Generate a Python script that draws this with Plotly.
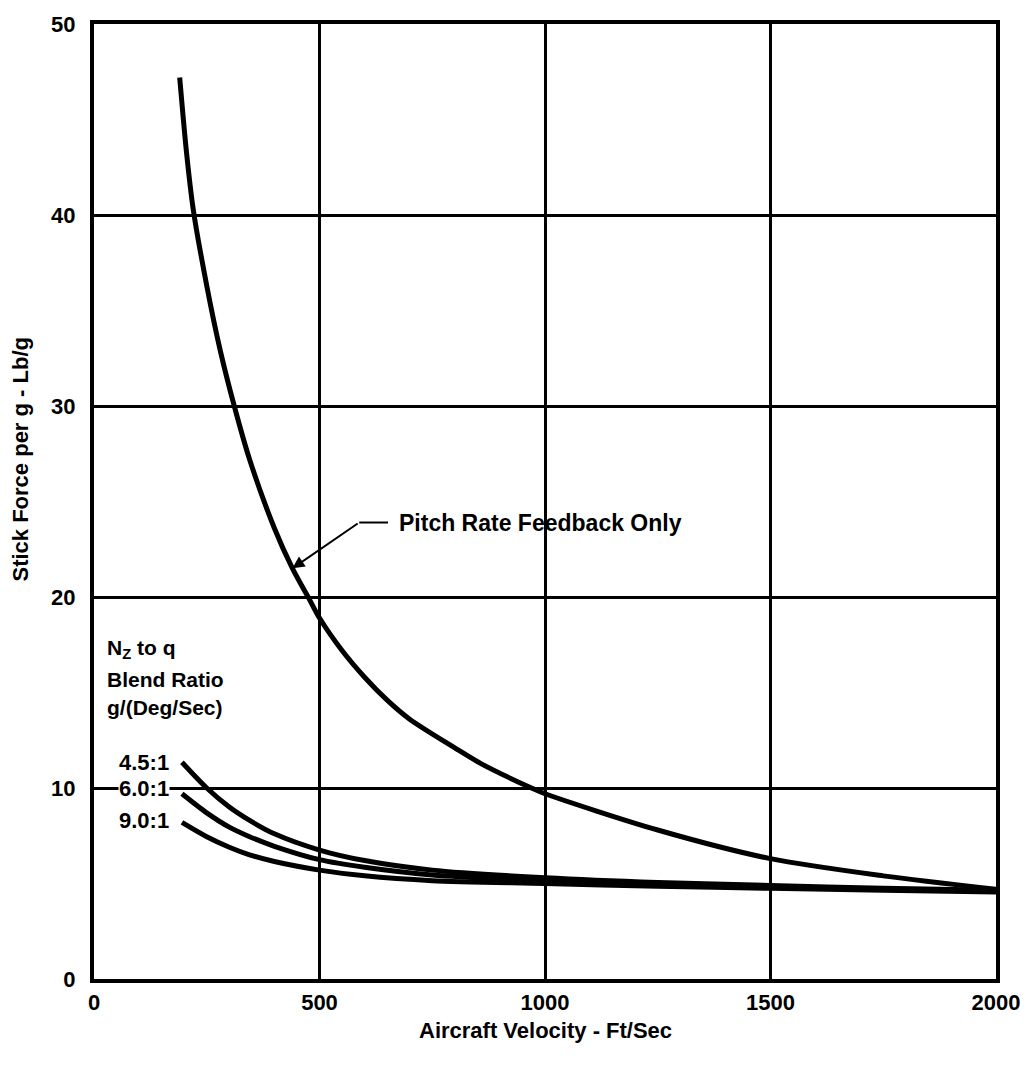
import plotly.graph_objects as go

# ---- data ----
pitch_v = [190, 205, 220, 250, 280, 311, 345, 400, 440, 477, 500, 550, 600, 650, 700, 800, 860, 970, 1000, 1250, 1500, 1750, 2000]
pitch_f = [47.2, 43.3, 40.3, 36.3, 32.9, 30.0, 27.2, 23.6, 21.5, 19.9, 18.9, 17.2, 15.8, 14.6, 13.6, 12.1, 11.25, 10.0, 9.7, 7.8, 6.3, 5.4, 4.7]

blend_v = [195, 250, 300, 345, 400, 500, 600, 750, 1000, 1250, 1500, 1750, 2000]
blend_45 = [11.35, 10.0, 9.0, 8.3, 7.6, 6.75, 6.2, 5.7, 5.3, 5.05, 4.9, 4.75, 4.65]
blend_60 = [9.7, 8.7, 7.95, 7.45, 6.95, 6.25, 5.85, 5.45, 5.15, 4.95, 4.8, 4.7, 4.6]
blend_90 = [8.2, 7.45, 6.9, 6.5, 6.15, 5.7, 5.4, 5.15, 5.0, 4.85, 4.75, 4.65, 4.55]

blend_labels = ["4.5:1", "6.0:1", "9.0:1"]
x_ticks = [0, 500, 1000, 1500, 2000]
y_ticks = [0, 10, 20, 30, 40, 50]

FONT = "Liberation Sans, Arial, sans-serif"

fig = go.Figure()
line_style = dict(color="black", width=5, shape="spline", smoothing=0.8)
fig.add_trace(go.Scatter(x=pitch_v, y=pitch_f, mode="lines", line=line_style, showlegend=False))
for ys in (blend_45, blend_60, blend_90):
    fig.add_trace(go.Scatter(x=blend_v, y=ys, mode="lines", line=line_style, showlegend=False))

bold = lambda s: dict(family=FONT, size=s, color="black", weight="bold")

annotations = []
# Pitch rate label with arrow
annotations.append(dict(x=440, y=21.5, ax=588, ay=23.9, xref="x", yref="y", axref="x", ayref="y",
                        showarrow=True, arrowhead=2, arrowsize=1.2, arrowwidth=2, arrowcolor="black", text=""))
annotations.append(dict(x=672, y=23.9, xref="x", yref="y", text="Pitch Rate Feedback Only", showarrow=False,
                        xanchor="left", yanchor="middle", font=bold(23)))
# left text block
for txt, yy in [("N<sub>Z</sub> to q", 17.3), ("Blend Ratio", 15.7), ("g/(Deg/Sec)", 14.2)]:
    annotations.append(dict(x=24, y=yy, xref="x", yref="y", text=txt, showarrow=False,
                            xanchor="left", yanchor="middle", font=bold(21)))
for txt, yy in zip(blend_labels, [11.35, 9.95, 8.3]):
    annotations.append(dict(x=168, y=yy, xref="x", yref="y", text=txt, showarrow=False, bgcolor="white",
                            borderpad=0, xanchor="right", yanchor="middle", font=bold(22)))
# axis titles
annotations.append(dict(x=0.5, y=-0.054, xref="paper", yref="paper", text="Aircraft Velocity - Ft/Sec",
                        showarrow=False, xanchor="center", yanchor="middle", font=bold(22)))
annotations.append(dict(x=-0.082, y=0.544, xref="paper", yref="paper", text="Stick Force per g - Lb/g",
                        showarrow=False, textangle=-90, xanchor="center", yanchor="middle", font=bold(22)))

fig.add_shape(type="line", xref="x", yref="y", x0=588, y0=23.9, x1=652, y1=23.9,
              line=dict(color="black", width=2))

fig.update_layout(
    width=1032, height=1067,
    margin=dict(l=94, r=34, t=21, b=88),
    paper_bgcolor="white", plot_bgcolor="white",
    annotations=annotations,
    font=dict(family=FONT, color="black"),
)
fig.update_xaxes(range=[0, 2000], tickvals=x_ticks, ticktext=[str(v) for v in x_ticks],
                 showgrid=True, gridcolor="black", gridwidth=2.5,
                 showline=True, linecolor="black", linewidth=4, mirror=True,
                 zeroline=False, ticks="", ticklabelstandoff=1,
                 tickfont=bold(22))
fig.update_yaxes(range=[0, 50], tickvals=y_ticks, ticktext=[str(v) for v in y_ticks],
                 showgrid=True, gridcolor="black", gridwidth=2.5,
                 showline=True, linecolor="black", linewidth=4, mirror=True,
                 zeroline=False, ticks="", ticklabelstandoff=10,
                 tickfont=bold(22))

fig.write_html("out.html")
